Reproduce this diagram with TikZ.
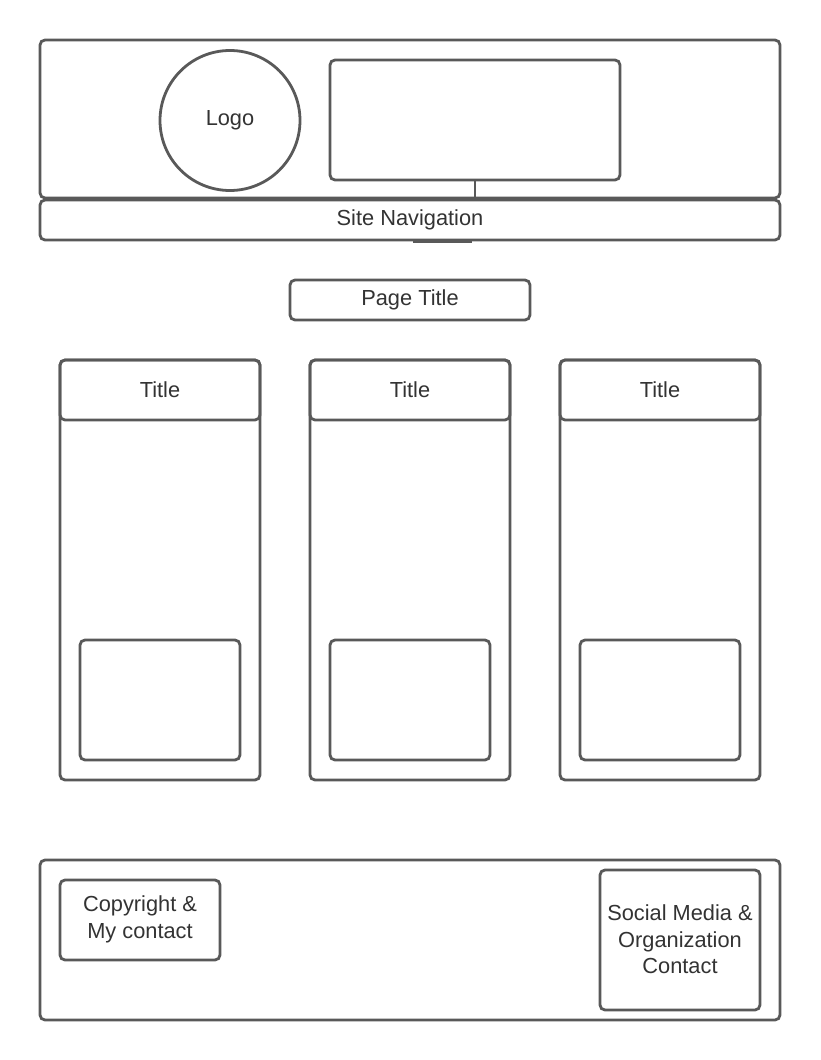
\documentclass[tikz,border=0pt]{standalone}
\usepackage{fontspec}
\setmainfont{Liberation Sans}
\begin{document}
\begin{tikzpicture}[x=1pt,y=-1pt,
  box/.style={draw=linegray,line width=2.8pt,rounded corners=5pt},
  lbl/.style={text=textgray,font=\fontsize{21.8}{26.5}\selectfont,align=center,inner sep=0pt}]
\definecolor{linegray}{HTML}{595959}
\definecolor{textgray}{HTML}{333333}
\useasboundingbox[fill=white] (0,0) rectangle (820,1060);
% header
\draw[box] (40,40) rectangle (780,198);
\coordinate (hdrb) at (475,199);
\draw[box] (330,60) rectangle (620,180);
\coordinate (bannerb) at (475,180);
\draw[linegray,line width=2pt] (bannerb) -- (hdrb);
\node[draw=linegray,line width=2.8pt,circle,minimum size=140pt,inner sep=0pt,lbl] (logo) at (230,120.5) {Logo};
% nav bar
\draw[linegray,line width=2.8pt] (413,241.5) -- (472,241.5);
\draw[box,fill=white] (40,200) rectangle (780,240);
\node[lbl] (nav) at (410,219.5) {Site Navigation};
% page title
\draw[box] (290,280) rectangle (530,320);
\node[lbl] (ptitle) at (410,299.5) {Page Title};
% columns
\foreach \x/\n in {60/a,310/b,560/c}{
  \draw[box] (\x,360) rectangle ({\x+200},780);
  \draw[box] (\x,360) rectangle ({\x+200},420);
  \node[lbl] (title\n) at ({\x+100},389.5) {Title};
  \draw[box] ({\x+20},640) rectangle ({\x+180},760);
}
% footer
\draw[box] (40,860) rectangle (780,1020);
\draw[box] (60,880) rectangle (220,960);
\node[lbl] (copy) at (140,919.5) {Copyright \&\\My contact};
\draw[box] (600,870) rectangle (760,1010);
\node[lbl] (social) at (680,939.5) {Social Media \&\\Organization\\Contact};
\end{tikzpicture}
\end{document}
